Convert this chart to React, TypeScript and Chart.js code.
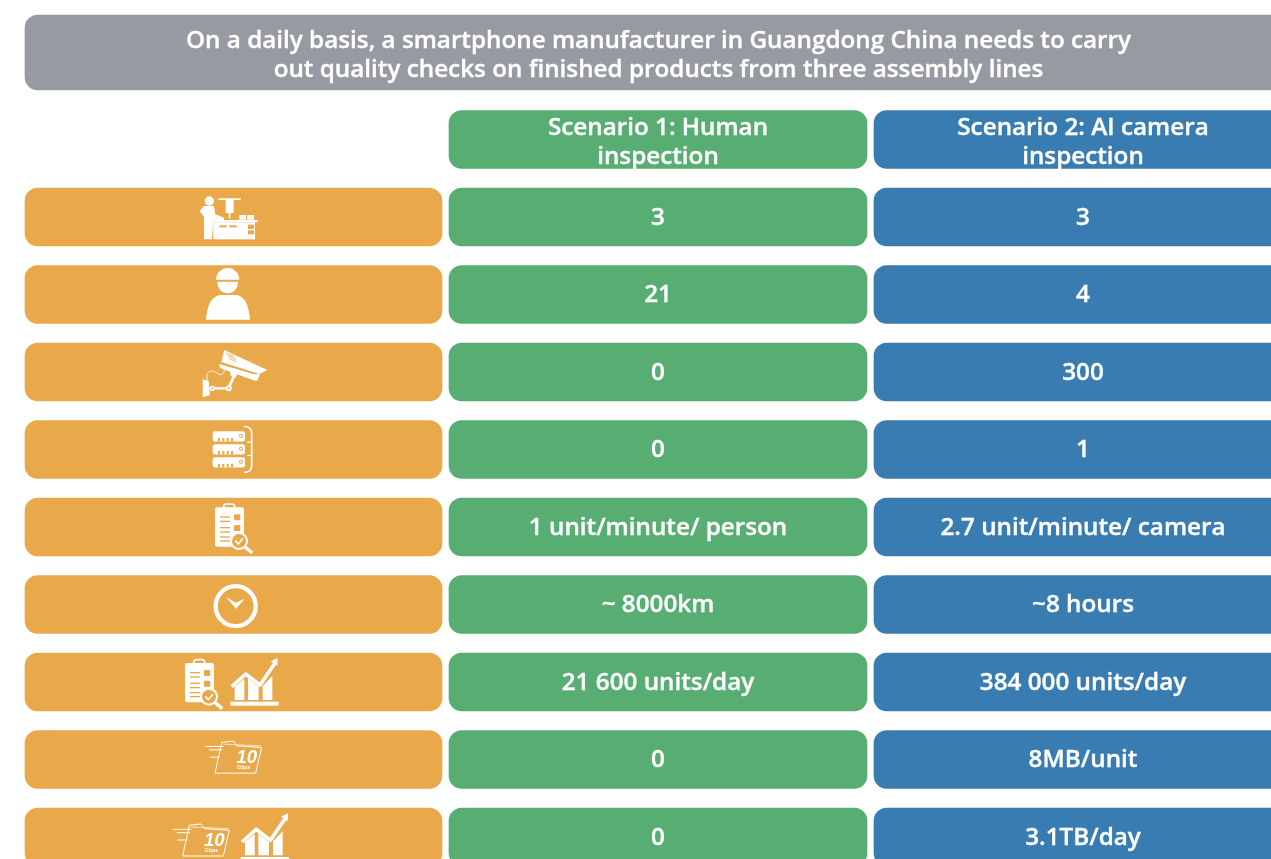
import React, { useEffect, useRef } from "react";
import { Chart, registerables } from "chart.js";

Chart.register(...registerables);

const titleLines = [
  "On a daily basis, a smartphone manufacturer in Guangdong China needs to carry",
  "out quality checks on finished products from three assembly lines",
];
const scenarioHuman = ["Scenario 1: Human", "inspection"];
const scenarioCamera = ["Scenario 2: AI camera", "inspection"];
const iconKeys = ["line", "worker", "camera", "server", "check", "clock", "checkGrowth", "data", "dataGrowth"];
const humanValues = ["3", "21", "0", "0", "1 unit/minute/ person", "~ 8000km", "21 600 units/day", "0", "0"];
const cameraValues = ["3", "4", "300", "1", "2.7 unit/minute/ camera", "~8 hours", "384 000 units/day", "8MB/unit", "3.1TB/day"];

const rowSlots = [0, 1, 2, 3, 4, 5, 6, 7, 8];
const headerSlot = -1;
const titleSlot = -2.123;
const labelSpan = [25, 442];
const humanSpan = [449, 867];
const cameraSpan = [874, 1292];
const titleSpan = [25, 1292];

const GREY = "#979AA2";
const ORANGE = "#E9A84A";
const GREEN = "#57AD72";
const BLUE = "#387CB2";
const FONT = '"Open Sans"';

type C = CanvasRenderingContext2D;

function poly(c: C, pts: number[][], fill = "#fff") {
  c.fillStyle = fill;
  c.beginPath();
  pts.forEach((p, i) => (i ? c.lineTo(p[0], p[1]) : c.moveTo(p[0], p[1])));
  c.closePath();
  c.fill();
}
function rect(c: C, x0: number, y0: number, x1: number, y1: number, fill = "#fff") {
  c.fillStyle = fill;
  c.fillRect(x0, y0, x1 - x0, y1 - y0);
}
function round(c: C, x0: number, y0: number, x1: number, y1: number, r: number, fill = "#fff") {
  c.fillStyle = fill;
  c.beginPath();
  c.roundRect(x0, y0, x1 - x0, y1 - y0, r);
  c.fill();
}
function disc(c: C, x: number, y: number, r: number, fill = "#fff") {
  c.fillStyle = fill;
  c.beginPath();
  c.arc(x, y, r, 0, Math.PI * 2);
  c.fill();
}
function line(c: C, pts: number[][], w: number, stroke = "#fff") {
  c.strokeStyle = stroke;
  c.lineWidth = w;
  c.lineJoin = "round";
  c.lineCap = "butt";
  c.beginPath();
  pts.forEach((p, i) => (i ? c.lineTo(p[0], p[1]) : c.moveTo(p[0], p[1])));
  c.stroke();
}

function machine(c: C) {
  disc(c, 88, 48, 14);
  poly(c, [[72, 63], [102, 63], [106, 88], [132, 98], [132, 108], [100, 110], [96, 163], [72, 163], [72, 96], [59, 78]]);
  rect(c, 100, 105, 233, 112);
  rect(c, 100, 112, 225, 163);
  rect(c, 118, 121, 140, 127, ORANGE);
  rect(c, 148, 121, 170, 127, ORANGE);
  rect(c, 204, 119, 222, 132, ORANGE);
  rect(c, 204, 136, 222, 148, ORANGE);
  rect(c, 178, 90, 222, 104);
  rect(c, 198, 90, 201, 104, ORANGE);
  rect(c, 115, 40, 182, 45);
  rect(c, 137, 45, 161, 84);
  rect(c, 146, 84, 151, 100);
  rect(c, 100, 92, 116, 106);
}
function worker(c: C) {
  c.fillStyle = "#fff";
  c.beginPath();
  c.arc(143, 284, 35, Math.PI, 0);
  c.closePath();
  c.fill();
  c.fillStyle = "#fff";
  c.beginPath();
  c.moveTo(112, 290);
  c.lineTo(174, 290);
  c.bezierCurveTo(174, 336, 112, 336, 112, 290);
  c.fill();
  c.beginPath();
  c.moveTo(78, 404);
  c.bezierCurveTo(82, 360, 92, 338, 118, 330);
  c.lineTo(172, 330);
  c.bezierCurveTo(196, 338, 206, 360, 210, 404);
  c.closePath();
  c.fill();
}
function cctv(c: C) {
  poly(c, [[133, 30], [262, 90], [238, 102], [124, 66]]);
  poly(c, [[118, 72], [238, 107], [226, 122], [212, 118], [120, 84]]);
  poly(c, [[222, 104], [240, 100], [232, 122], [222, 120]]);
  for (let i = 0; i < 4; i++) line(c, [[138 + i * 3, 38 + i * 6], [162 + i * 3, 48 + i * 6]], 2, ORANGE);
  poly(c, [[150, 94], [172, 102], [166, 114], [152, 108]]);
  line(c, [[163, 106], [146, 145]], 8);
  line(c, [[95, 145], [146, 145]], 7);
  disc(c, 146, 145, 9);
  disc(c, 146, 145, 3, ORANGE);
  poly(c, [[68, 118], [86, 122], [90, 166], [68, 172]]);
  disc(c, 97, 145, 8);
  disc(c, 97, 145, 3, ORANGE);
  c.strokeStyle = "#fff";
  c.lineWidth = 2.5;
  c.beginPath();
  c.moveTo(82, 120);
  c.bezierCurveTo(74, 90, 100, 88, 112, 100);
  c.bezierCurveTo(122, 110, 136, 100, 132, 86);
  c.stroke();
}
function server(c: C) {
  const tops = [272, 311, 350];
  tops.forEach((t) => {
    round(c, 98, t, 195, t + 31, 7);
    for (let i = 0; i < 4; i++) rect(c, 114 + i * 13, t + 19, 120 + i * 13, t + 31, ORANGE);
    rect(c, 114, t + 16, 163, t + 20, "#fff");
    disc(c, 183, t + 14, 6, ORANGE);
    disc(c, 183, t + 14, 3);
  });
  c.strokeStyle = "#fff";
  c.lineWidth = 5;
  c.beginPath();
  c.moveTo(192, 258);
  c.quadraticCurveTo(215, 258, 215, 278);
  c.lineTo(215, 375);
  c.quadraticCurveTo(215, 396, 192, 396);
  c.stroke();
  line(c, [[202, 305], [215, 305]], 4);
  line(c, [[202, 345], [215, 345]], 4);
}
function checklist(c: C) {
  round(c, 105, 37, 192, 155, 7);
  c.strokeStyle = "#fff";
  c.lineWidth = 5;
  c.beginPath();
  c.roundRect(131, 27, 33, 22, 8);
  c.stroke();
  rect(c, 131, 38, 165, 47);
  [66, 79, 98, 111, 126, 138].forEach((y) => rect(c, 120, y - 2, 150, y + 2, ORANGE));
  round(c, 162, 58, 181, 76, 3, ORANGE);
  round(c, 162, 90, 181, 108, 3, ORANGE);
  line(c, [[194, 155], [217, 174]], 10);
  disc(c, 177, 138, 27);
  disc(c, 177, 138, 21, ORANGE);
  line(c, [[166, 137], [175, 147], [189, 130]], 5);
}
function clock(c: C) {
  c.strokeStyle = "#fff";
  c.lineWidth = 13;
  c.beginPath();
  c.arc(167, 332, 60, 0, Math.PI * 2);
  c.stroke();
  poly(c, [[137, 304], [168, 322], [194, 310], [168, 340]]);
}
function growth(c: C) {
  rect(c, 196, 155, 341, 167);
  poly(c, [[209, 110], [238, 86], [238, 150], [209, 150]]);
  poly(c, [[249, 85], [281, 110], [281, 150], [249, 150]]);
  poly(c, [[293, 108], [322, 78], [322, 150], [293, 150]]);
  line(c, [[200, 110], [242, 72], [285, 105], [328, 42]], 11);
  poly(c, [[317, 34], [338, 24], [337, 48]]);
}
function folder(c: C) {
  c.strokeStyle = "#fff";
  c.lineWidth = 3;
  c.lineJoin = "round";
  c.beginPath();
  c.moveTo(150, 368);
  c.lineTo(170, 276);
  c.lineTo(205, 272);
  c.lineTo(216, 286);
  c.lineTo(290, 291);
  c.lineTo(272, 368);
  c.closePath();
  c.stroke();
  line(c, [[175, 281], [288, 286]], 2);
  line(c, [[120, 288], [176, 288]], 3);
  line(c, [[132, 298], [172, 298]], 3);
  line(c, [[134, 320], [164, 320]], 3);
  c.fillStyle = ORANGE;
  c.fillRect(208, 300, 58, 62);
  c.fillStyle = "#fff";
  c.textAlign = "center";
  c.textBaseline = "alphabetic";
  c.font = `italic bold 56px "Liberation Sans"`;
  c.fillText("10", 245, 338);
  c.font = `italic bold 16px "Liberation Sans"`;
  c.fillText("Gbps", 236, 356);
}

/* Each icon was traced on a 3x crop; [crop x at row centre, crop y at row centre]. */
const iconDraw: Record<string, (c: C) => void> = {
  line: (c) => place(c, 160.5, 96, machine),
  worker: (c) => place(c, 160.5, 328.5, worker),
  camera: (c) => place(c, 160.5, 96, cctv),
  server: (c) => place(c, 160.5, 327, server),
  check: (c) => place(c, 160.5, 96, checklist),
  clock: (c) => place(c, 160.5, 327, clock),
  checkGrowth: (c) => {
    place(c, 205.5, 96, (k) => {
      k.translate(-45, 2);
      checklist(k);
    });
    place(c, 205.5, 96, growth);
  },
  data: (c) => place(c, 205.5, 327, folder),
  dataGrowth: (c) => {
    place(c, 205.5, 558, (k) => {
      k.translate(-97, 247);
      folder(k);
    });
    place(c, 205.5, 558, (k) => {
      k.translate(31, 463);
      growth(k);
    });
  },
};
function place(c: C, ox: number, oy: number, fn: (c: C) => void) {
  c.save();
  c.scale(1 / 3, 1 / 3);
  c.translate(-ox, -oy);
  fn(c);
  c.restore();
}

const tablePlugin = {
  id: "tableText",
  afterDatasetsDraw(chart: any) {
    const c: C = chart.ctx;
    const xs = chart.scales.x;
    const ys = chart.scales.y;
    const mid = (s: number[]) => xs.getPixelForValue((s[0] + s[1]) / 2);
    const text = (t: string, x: number, y: number) => {
      c.fillStyle = "#fff";
      c.strokeStyle = "#fff";
      c.lineWidth = 0.35;
      c.fillText(t, x, y);
      c.strokeText(t, x, y);
    };
    c.save();
    c.font = `600 24.25px ${FONT}`;
    c.textAlign = "center";
    c.textBaseline = "middle";
    const ty = ys.getPixelForValue(titleSlot);
    text(titleLines[0], mid(titleSpan), ty - 11);
    text(titleLines[1], mid(titleSpan), ty + 18);
    const hy = ys.getPixelForValue(headerSlot);
    scenarioHuman.forEach((t, i) => text(t, mid(humanSpan), hy - 11 + i * 29));
    scenarioCamera.forEach((t, i) => text(t, mid(cameraSpan), hy - 11 + i * 29));
    rowSlots.forEach((slot, i) => {
      const y = ys.getPixelForValue(slot) + 1;
      text(humanValues[i], mid(humanSpan), y);
      text(cameraValues[i], mid(cameraSpan), y);
    });
    c.restore();
    rowSlots.forEach((slot, i) => {
      c.save();
      c.translate(mid(labelSpan), ys.getPixelForValue(slot));
      iconDraw[iconKeys[i]](c);
      c.restore();
    });
  },
};

export default function App() {
  const ref = useRef<HTMLCanvasElement>(null);
  useEffect(() => {
    const rowBars = (span: number[]) => rowSlots.map((y) => ({ x: span, y }));
    const chart = new Chart(ref.current!, {
      type: "bar",
      data: {
        datasets: [
          { data: [{ x: titleSpan, y: titleSlot }], backgroundColor: GREY, barThickness: 75, borderRadius: 13 },
          { data: [{ x: humanSpan, y: headerSlot }, ...rowBars(humanSpan)], backgroundColor: GREEN, barThickness: 58, borderRadius: 13 },
          { data: [{ x: cameraSpan, y: headerSlot }, ...rowBars(cameraSpan)], backgroundColor: BLUE, barThickness: 58, borderRadius: 13 },
          { data: rowBars(labelSpan), backgroundColor: ORANGE, barThickness: 58, borderRadius: 13 },
        ] as any,
      },
      options: {
        indexAxis: "y",
        responsive: false,
        animation: false,
        events: [],
        layout: { padding: 0 },
        datasets: { bar: { grouped: false, borderSkipped: false, borderWidth: 0 } },
        plugins: { legend: { display: false }, tooltip: { enabled: false }, title: { display: false } },
        scales: {
          x: { type: "linear", min: 0, max: 1271, display: false, offset: false },
          y: { type: "linear", min: -2.8, max: 8.284, reverse: true, display: false, offset: false },
        },
      } as any,
      plugins: [tablePlugin],
    });
    return () => chart.destroy();
  }, []);
  return (
    <canvas
      ref={ref}
      width={1271}
      height={859}
      style={{ position: "fixed", left: 0, top: 0, width: 1271, height: 859, display: "block" }}
    />
  );
}
